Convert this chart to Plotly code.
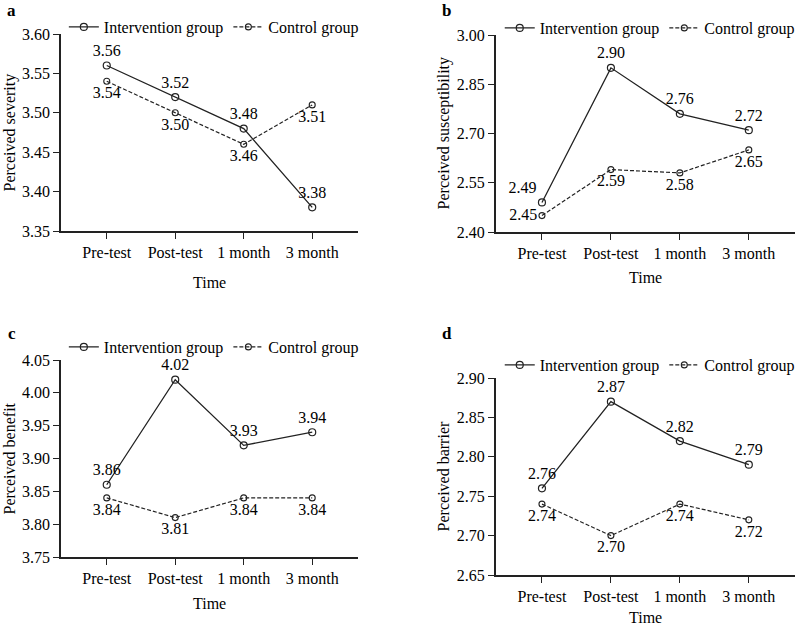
import plotly.graph_objects as go

# Time points shared by all four panels
times = ['Pre-test', 'Post-test', '1 month', '3 month']

# a: Perceived severity
a_int = [3.56, 3.52, 3.48, 3.38]
a_ctrl = [3.54, 3.50, 3.46, 3.51]
a_int_lab = [3.56, 3.52, 3.48, 3.38]
a_ctrl_lab = [3.54, 3.50, 3.46, 3.51]

# b: Perceived susceptibility
b_int = [2.49, 2.90, 2.76, 2.71]
b_ctrl = [2.45, 2.59, 2.58, 2.65]
b_int_lab = [2.49, 2.90, 2.76, 2.72]
b_ctrl_lab = [2.45, 2.59, 2.58, 2.65]

# c: Perceived benefit
c_int = [3.86, 4.02, 3.92, 3.94]
c_ctrl = [3.84, 3.81, 3.84, 3.84]
c_int_lab = [3.86, 4.02, 3.93, 3.94]
c_ctrl_lab = [3.84, 3.81, 3.84, 3.84]

# d: Perceived barrier
d_int = [2.76, 2.87, 2.82, 2.79]
d_ctrl = [2.74, 2.70, 2.74, 2.72]
d_int_lab = [2.76, 2.87, 2.82, 2.79]
d_ctrl_lab = [2.74, 2.70, 2.74, 2.72]

FONT = 'Liberation Serif'
INK = '#222222'

W, H = 800, 627


def px_x(x):
    return x / W


def px_y(y):
    return 1 - y / H


# layout of each panel, in pixels of the 800x627 page
panels = [
    dict(letter='a', ints=a_int, ctrl=a_ctrl, il=a_int_lab, cl=a_ctrl_lab,
         title='Perceived severity', yr=[3.35, 3.60], dt=0.05,
         xd=(61, 359), yd=(34, 231), leg=(70, 27), lab=(12, 10),
         ytx=10, time_y=282,
         itp=['top center'] * 4, ctp=['bottom center'] * 4),
    dict(letter='b', ints=b_int, ctrl=b_ctrl, il=b_int_lab, cl=b_ctrl_lab,
         title='Perceived susceptibility', yr=[2.40, 3.00], dt=0.15,
         xd=(497, 797), yd=(35, 232), leg=(507, 28), lab=(448, 10),
         ytx=445, time_y=278,
         itp=['top left', 'top center', 'top center', 'top center'],
         ctp=['middle left', 'bottom center', 'bottom center', 'bottom center']),
    dict(letter='c', ints=c_int, ctrl=c_ctrl, il=c_int_lab, cl=c_ctrl_lab,
         title='Perceived benefit', yr=[3.75, 4.05], dt=0.05,
         xd=(61, 359), yd=(360, 557), leg=(70, 347), lab=(12, 333),
         ytx=10, time_y=603,
         itp=['top center'] * 4, ctp=['bottom center'] * 4),
    dict(letter='d', ints=d_int, ctrl=d_ctrl, il=d_int_lab, cl=d_ctrl_lab,
         title='Perceived barrier', yr=[2.65, 2.90], dt=0.05,
         xd=(497, 797), yd=(378, 575), leg=(507, 365), lab=(448, 333),
         ytx=445, time_y=617,
         itp=['top center'] * 4, ctp=['bottom center'] * 4),
]

fig = go.Figure()
annotations = []
txt = dict(family=FONT, size=16, color='black')

for i, p in enumerate(panels):
    n = '' if i == 0 else str(i + 1)
    leg = 'legend' if i == 0 else 'legend' + str(i + 1)
    xa, ya = 'x' + n, 'y' + n

    fig.add_trace(go.Scatter(
        x=times, y=p['ints'], xaxis=xa, yaxis=ya, legend=leg,
        name='Intervention group', mode='lines+markers+text',
        text=['%.2f' % v for v in p['il']], textposition=p['itp'], textfont=txt,
        line=dict(color=INK, width=1.3),
        marker=dict(symbol='circle-open', size=7, color=INK, line=dict(width=1.2)),
        cliponaxis=False))
    fig.add_trace(go.Scatter(
        x=times, y=p['ctrl'], xaxis=xa, yaxis=ya, legend=leg,
        name='Control group', mode='lines+markers+text',
        text=['%.2f' % v for v in p['cl']], textposition=p['ctp'], textfont=txt,
        line=dict(color=INK, width=1.2, dash='4px,2px'),
        marker=dict(symbol='circle-open', size=6, color=INK, line=dict(width=1.1)),
        cliponaxis=False))

    yr = p['yr']
    fig.layout['xaxis' + n] = dict(
        domain=[px_x(p['xd'][0]), px_x(p['xd'][1])], anchor=ya,
        type='category', range=[-0.67, 3.67], tickangle=0,
        showline=True, linecolor=INK, linewidth=1.5,
        ticks='outside', ticklen=6, tickwidth=1.3, tickcolor=INK,
        tickfont=txt, showgrid=False, zeroline=False, automargin=False)
    fig.layout['yaxis' + n] = dict(
        domain=[px_y(p['yd'][1]), px_y(p['yd'][0])], anchor=xa,
        range=yr, dtick=p['dt'], tick0=yr[0], tickformat='.2f',
        showline=True, linecolor=INK, linewidth=1.5,
        ticks='outside', ticklen=6, tickwidth=1.3, tickcolor=INK,
        tickfont=txt, showgrid=False, zeroline=False, automargin=False)

    fig.layout[leg] = dict(
        x=px_x(p['leg'][0] - 6), y=px_y(p['leg'][1]), xanchor='left', yanchor='middle',
        orientation='h', bgcolor='rgba(0,0,0,0)', font=txt, itemwidth=30,
        tracegroupgap=0)

    # panel letter
    annotations.append(dict(
        text='<b>%s</b>' % p['letter'], xref='paper', yref='paper',
        x=px_x(p['lab'][0]), y=px_y(p['lab'][1]),
        xanchor='center', yanchor='middle', showarrow=False,
        font=dict(family=FONT, size=17, color='black')))
    # y axis title
    annotations.append(dict(
        text=p['title'], xref='paper', yref='paper', textangle=-90,
        x=px_x(p['ytx']), y=px_y((p['yd'][0] + p['yd'][1]) / 2),
        xanchor='center', yanchor='middle', showarrow=False, font=txt))
    # x axis title
    annotations.append(dict(
        text='Time', xref='paper', yref='paper',
        x=px_x((p['xd'][0] + p['xd'][1]) / 2), y=px_y(p['time_y']),
        xanchor='center', yanchor='middle', showarrow=False, font=txt))

fig.update_layout(
    width=W, height=H,
    margin=dict(l=0, r=0, t=0, b=0),
    paper_bgcolor='white', plot_bgcolor='white',
    showlegend=True,
    annotations=annotations,
)

# the page body has a default 8px margin; drop it so the figure fills the window
fig.write_html('out.html', config={'displayModeBar': False},
               post_script="document.body.style.margin='0';")
